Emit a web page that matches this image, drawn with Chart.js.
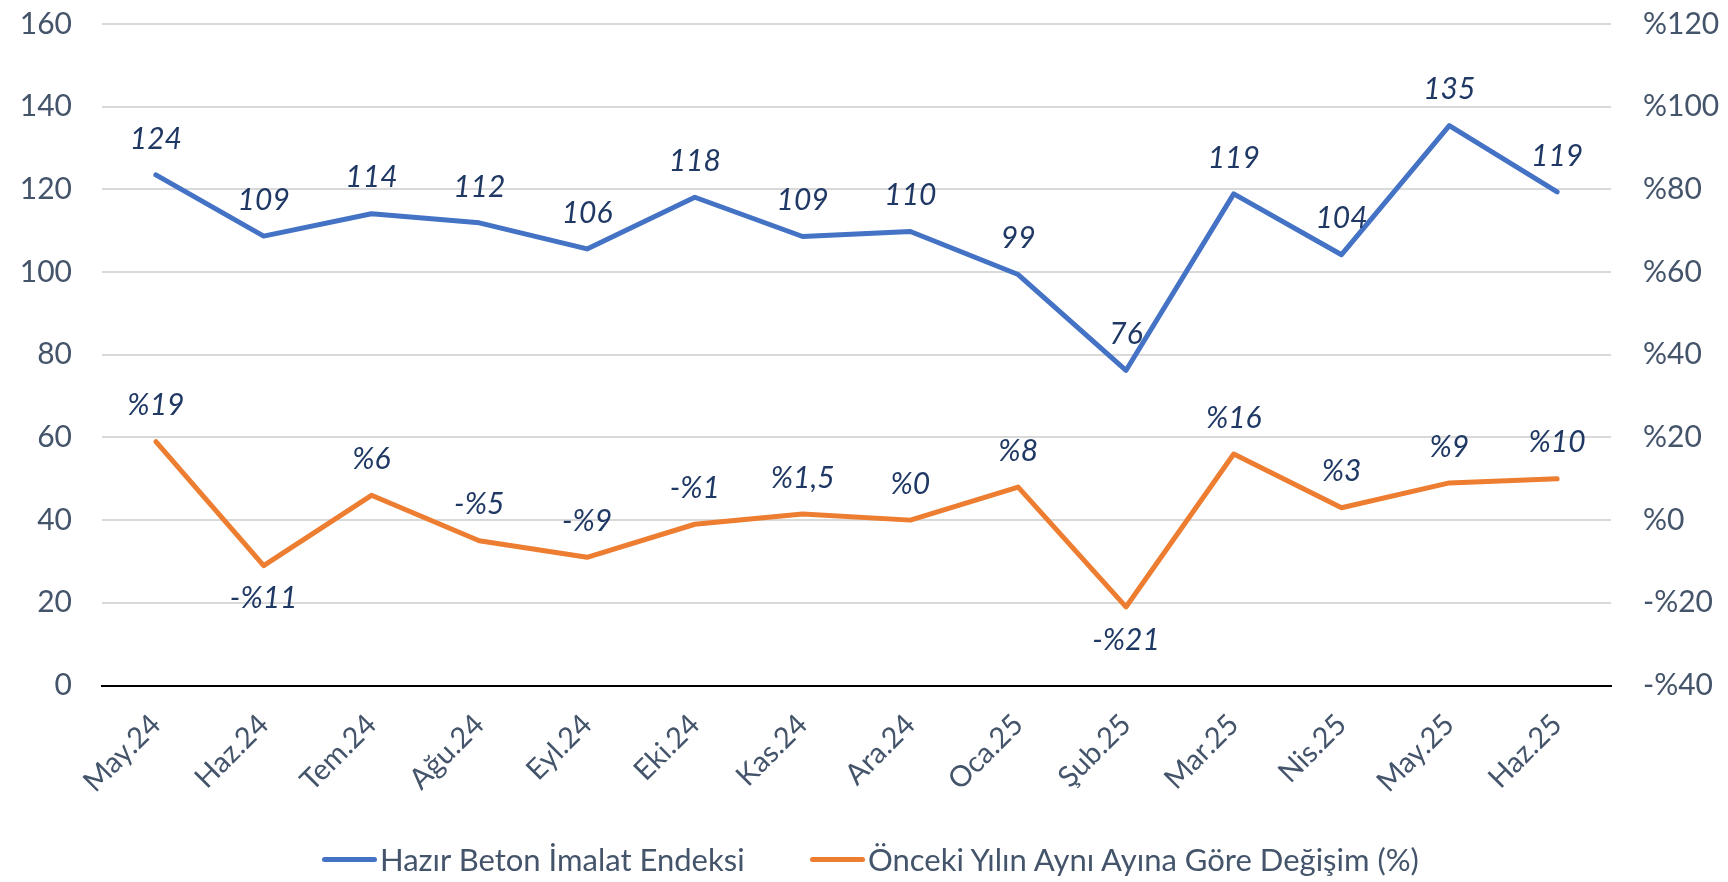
<!DOCTYPE html>
<html lang="tr">
<head>
<meta charset="utf-8">
<title>Hazır Beton İmalat Endeksi</title>
<script src="https://cdn.jsdelivr.net/npm/chart.js@4.4.1/dist/chart.umd.min.js"></script>
<style>
  html, body { margin: 0; padding: 0; background: #fff; }
  body { width: 1728px; height: 882px; overflow: hidden; position: relative; font-family: Lato, "Noto Sans", sans-serif; }
  .chart-box { position: relative; width: 1728px; height: 835px; }
  .legend-item { position: absolute; top: 833px; height: 52px; display: flex; align-items: center; color: #44546a; font-size: 31px; white-space: nowrap; }
  .legend-line { display: inline-block; width: 55px; height: 5px; border-radius: 3px; margin-right: 3px; }
</style>
</head>
<body>
<div class="chart-box"><canvas id="chart"></canvas></div>
<div id="legend"></div>

<script>
// kategoriler
const months = ['May.24', 'Haz.24', 'Tem.24', 'Ağu.24', 'Eyl.24', 'Eki.24', 'Kas.24', 'Ara.24', 'Oca.25', 'Şub.25', 'Mar.25', 'Nis.25', 'May.25', 'Haz.25'];

// Hazır Beton İmalat Endeksi (sol eksen)
const indexValues = [123.5, 108.7, 114.1, 111.9, 105.6, 118.1, 108.6, 109.8, 99.4, 76.2, 118.9, 104.2, 135.4, 119.4];

// Önceki yılın aynı ayına göre değişim, % (sağ eksen)
const changeValues = [19, -11, 6, -5, -9, -1, 1.5, 0, 8, -21, 16, 3, 9, 10];

// eksen etiketleri
const leftTicks = [0, 20, 40, 60, 80, 100, 120, 140, 160];
const rightTicks = [-40, -20, 0, 20, 40, 60, 80, 100, 120];

const seriesNames = ['Hazır Beton İmalat Endeksi', 'Önceki Yılın Aynı Ayına Göre Değişim (%)'];

const BLUE = '#4472c4';
const ORANGE = '#ed7d31';
const AXIS_TEXT = '#44546a';
const LABEL_TEXT = '#1f3864';
const FONT = 'Lato, "Noto Sans", sans-serif';

// yüzde biçimi: %19, -%11, %1,5
function formatPercent(v) {
  const abs = Math.abs(v).toString().replace('.', ',');
  return (v < 0 ? '-%' : '%') + abs;
}

// y eksenleri: sabit genişlik, üst/alt boşluğu layout'a bırak
function fixYAxis(width) {
  return scale => {
    scale.width = width;
    scale.paddingTop = 0;
    scale.paddingBottom = 0;
  };
}

// noktaların üstüne/altına değer yazısı
const valueLabels = {
  id: 'valueLabels',
  afterDatasetsDraw(chart) {
    const ctx = chart.ctx;
    ctx.save();
    ctx.font = 'italic 30px ' + FONT;
    ctx.fillStyle = LABEL_TEXT;
    ctx.textAlign = 'center';
    ctx.textBaseline = 'middle';
    chart.data.datasets.forEach((ds, di) => {
      const meta = chart.getDatasetMeta(di);
      const below = ds.labelsBelow || [];
      meta.data.forEach((pt, i) => {
        const text = ds.formatLabel(ds.data[i]);
        const y = below.includes(i) ? pt.y + 33 : pt.y - 36;
        ctx.fillText(text, pt.x, y);
      });
    });
    ctx.restore();
  }
};

const ctx = document.getElementById('chart').getContext('2d');
new Chart(ctx, {
  type: 'line',
  data: {
    labels: months,
    datasets: [
      {
        label: seriesNames[0],
        data: indexValues,
        yAxisID: 'y',
        borderColor: BLUE,
        backgroundColor: BLUE,
        borderWidth: 5,
        borderCapStyle: 'round',
        borderJoinStyle: 'round',
        pointRadius: 0,
        tension: 0,
        formatLabel: v => String(Math.round(v))
      },
      {
        label: seriesNames[1],
        data: changeValues,
        yAxisID: 'y1',
        borderColor: ORANGE,
        backgroundColor: ORANGE,
        borderWidth: 5,
        borderCapStyle: 'round',
        borderJoinStyle: 'round',
        pointRadius: 0,
        tension: 0,
        labelsBelow: [1, 9],
        formatLabel: formatPercent
      }
    ]
  },
  options: {
    responsive: true,
    maintainAspectRatio: false,
    animation: false,
    layout: { padding: { top: 24, left: 0, right: 0, bottom: 0 } },
    plugins: {
      legend: { display: false },
      tooltip: { enabled: false }
    },
    scales: {
      x: {
        offset: true,
        grid: { display: false, drawTicks: false },
        border: { display: true, color: '#000', width: 2 },
        ticks: {
          autoSkip: false,
          maxRotation: 45,
          minRotation: 45,
          padding: 22,
          color: AXIS_TEXT,
          font: { family: FONT, size: 29 }
        },
        afterFit: scale => { scale.height = 149.5; }
      },
      y: {
        position: 'left',
        min: leftTicks[0],
        max: leftTicks[leftTicks.length - 1],
        afterBuildTicks: scale => { scale.ticks = leftTicks.map(v => ({ value: v })); },
        grid: {
          color: c => (c.tick && c.tick.value === 0 ? 'rgba(0,0,0,0)' : '#d9d9d9'),
          lineWidth: 2,
          drawTicks: false
        },
        border: { display: false },
        ticks: {
          padding: 30,
          color: AXIS_TEXT,
          font: { family: FONT, size: 30 }
        },
        afterFit: fixYAxis(102)
      },
      y1: {
        position: 'right',
        min: rightTicks[0],
        max: rightTicks[rightTicks.length - 1],
        afterBuildTicks: scale => { scale.ticks = rightTicks.map(v => ({ value: v })); },
        grid: { drawOnChartArea: false, drawTicks: false },
        border: { display: false },
        ticks: {
          padding: 32,
          color: AXIS_TEXT,
          font: { family: FONT, size: 30 },
          callback: v => formatPercent(v)
        },
        afterFit: fixYAxis(117)
      }
    }
  },
  plugins: [valueLabels]
});

// HTML lejant
const legendLeft = [322, 810];
const legendColors = [BLUE, ORANGE];
const legendEl = document.getElementById('legend');
legendEl.innerHTML = seriesNames.map((name, i) => `
  <div class="legend-item" style="left:${legendLeft[i]}px">
    <span class="legend-line" style="background:${legendColors[i]}"></span>${name}
  </div>`).join('');
</script>
</body>
</html>
